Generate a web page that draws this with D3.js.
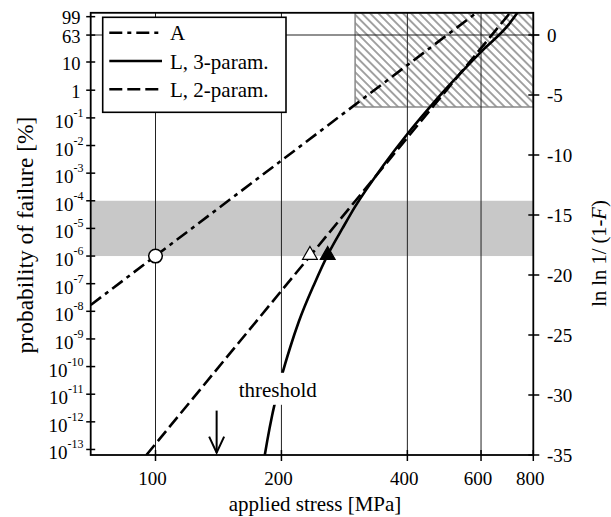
<!DOCTYPE html>
<html><head><meta charset="utf-8">
<script src="https://cdn.jsdelivr.net/npm/d3@7"></script>
<style>
body{margin:0;background:#fff;}
svg{display:block;}
text{font-family:"Liberation Serif","Times New Roman",serif;fill:#000;}
</style>
</head><body>
<svg id="chart" width="611" height="517"></svg>
<script>
// ---------------- data ----------------
const stressTicks = [100, 200, 400, 600, 800];
const stressGrid = [100, 200, 400, 600];
const lnlnTicks = [0, -5, -10, -15, -20, -25, -30, -35];
const probTicksPct = [99, 63, 10, 1, 1e-1, 1e-2, 1e-3, 1e-4, 1e-5, 1e-6, 1e-7, 1e-8, 1e-9, 1e-10, 1e-11, 1e-12, 1e-13];
const probTickBase = ["99", "63", "10", "1", "10", "10", "10", "10", "10", "10", "10", "10", "10", "10", "10", "10", "10"];
const probTickExp = [null, null, null, null, "-1", "-2", "-3", "-4", "-5", "-6", "-7", "-8", "-9", "-10", "-11", "-12", "-13"];

const seriesNames = ["A", "L, 3-param.", "L, 2-param."];
const lineAStress = [70, 585];
const lineALnln = [-22.5, 1.85];
const lineL2Stress = [95.1, 704];
const lineL2Lnln = [-35, 1.85];
const curveL3Stress = [182.5, 185, 190, 195, 200, 210, 220, 240, 260, 280, 300, 350, 400, 450, 500, 600, 700, 733];
const curveL3Lnln = [-35, -33.8, -31.7, -30.0, -28.5, -26.0, -23.9, -20.7, -18.1, -16.1, -14.3, -10.9, -8.25, -6.11, -4.31, -1.40, 0.91, 1.85];

const bandProbPct = [1e-4, 1e-6];
const hatchStress = [300, 800];
const hatchLnln = [-6, 1.85];
const markerProbPct = 1e-6;
const markerStress = [100, 234, 258]; // A, L 2-param., L 3-param.
const arrowStress = 140;
const arrowLnln = [-31.3, -34.8];
const thresholdText = "threshold";
const thresholdStress = 196;
const thresholdLnln = -30.15;

const xTitle = "applied stress [MPa]";
const yTitle = "probability of failure [%]";

// ---------------- scales ----------------
const stressDomain = [70, 800];
const lnlnDomain = [-35, 1.85];
const x = d3.scaleLog().domain(stressDomain).range([90.7, 533.3]);
const y = d3.scaleLinear().domain(lnlnDomain).range([455, 12.8]);
const toLnln = p => Math.log(-Math.log1p(-p / 100));

const svg = d3.select("#chart");
const x0 = x(stressDomain[0]), x1 = x(stressDomain[1]);
const yTop = y(lnlnDomain[1]), yBot = y(lnlnDomain[0]);

const defs = svg.append("defs");
defs.append("clipPath").attr("id", "clip").append("rect")
  .attr("x", x0).attr("y", yTop).attr("width", x1 - x0).attr("height", yBot - yTop);
const pat = defs.append("pattern").attr("id", "hatch")
  .attr("patternUnits", "userSpaceOnUse").attr("width", 5.8).attr("height", 5.8)
  .attr("patternTransform", "rotate(45)");
pat.append("line").attr("x1", 0).attr("y1", 2.9).attr("x2", 5.8).attr("y2", 2.9)
  .attr("stroke", "#5e5e5e").attr("stroke-width", 1.15);

// band
svg.append("rect")
  .attr("x", x0).attr("width", x1 - x0)
  .attr("y", y(toLnln(bandProbPct[0])))
  .attr("height", y(toLnln(bandProbPct[1])) - y(toLnln(bandProbPct[0])))
  .attr("fill", "#c8c8c8");

// hatched region
svg.append("rect")
  .attr("x", x(hatchStress[0])).attr("width", x(hatchStress[1]) - x(hatchStress[0]))
  .attr("y", y(hatchLnln[1])).attr("height", y(hatchLnln[0]) - y(hatchLnln[1]))
  .attr("fill", "url(#hatch)").attr("stroke", "#8a8a8a").attr("stroke-width", 1.5);

// grid
svg.append("g").selectAll("line").data(stressGrid).join("line")
  .attr("x1", d => x(d)).attr("x2", d => x(d))
  .attr("y1", yTop).attr("y2", yBot)
  .attr("stroke", "#222").attr("stroke-width", 1);
svg.append("line").attr("x1", x0).attr("x2", x1 + 6)
  .attr("y1", y(0)).attr("y2", y(0)).attr("stroke", "#222").attr("stroke-width", 1.1);

// series
const lineGen = d3.line().x(d => x(d[0])).y(d => y(d[1]));
const curveGen = d3.line().x(d => x(d[0])).y(d => y(d[1])).curve(d3.curveMonotoneX);
const gL = svg.append("g").attr("clip-path", "url(#clip)");
const styles = {
  A: {dash: "13,5,4,5"},
  L3: {dash: null},
  L2: {dash: "13,5"}
};
gL.append("path").datum(lineAStress.map((s, i) => [s, lineALnln[i]]))
  .attr("d", lineGen).attr("fill", "none").attr("stroke", "#000")
  .attr("stroke-width", 2.6).attr("stroke-dasharray", styles.A.dash);
gL.append("path").datum(lineL2Stress.map((s, i) => [s, lineL2Lnln[i]]))
  .attr("d", lineGen).attr("fill", "none").attr("stroke", "#000")
  .attr("stroke-width", 2.6).attr("stroke-dasharray", styles.L2.dash);
gL.append("path").datum(curveL3Stress.map((s, i) => [s, curveL3Lnln[i]]))
  .attr("d", curveGen).attr("fill", "none").attr("stroke", "#000")
  .attr("stroke-width", 2.6);

// threshold label with white background
const tx = x(thresholdStress), ty = y(thresholdLnln);
svg.append("rect").attr("x", tx - 41).attr("y", ty - 24).attr("width", 82).attr("height", 32).attr("fill", "#fff");
svg.append("text").attr("x", tx).attr("y", ty).attr("text-anchor", "middle")
  .attr("font-size", 21).text(thresholdText);

// arrow
const ax = x(arrowStress), ay1 = y(arrowLnln[0]), ay2 = y(arrowLnln[1]);
svg.append("line").attr("x1", ax).attr("x2", ax).attr("y1", ay1).attr("y2", ay2)
  .attr("stroke", "#000").attr("stroke-width", 2);
svg.append("path").attr("d", `M${ax - 7.5},${ay2 - 16}L${ax},${ay2}L${ax + 7.5},${ay2 - 16}`)
  .attr("fill", "none").attr("stroke", "#000").attr("stroke-width", 2);

// markers
const my = y(toLnln(markerProbPct));
svg.append("circle").attr("cx", x(markerStress[0])).attr("cy", my).attr("r", 6.8)
  .attr("fill", "#fff").attr("stroke", "#000").attr("stroke-width", 1.5);
const tri = d3.symbol().type(d3.symbolTriangle).size(95);
svg.append("path").attr("d", tri()).attr("transform", `translate(${x(markerStress[1])},${my - 1})`)
  .attr("fill", "#fff").attr("stroke", "#000").attr("stroke-width", 1.2);
svg.append("path").attr("d", tri()).attr("transform", `translate(${x(markerStress[2])},${my - 1})`)
  .attr("fill", "#000").attr("stroke", "#000").attr("stroke-width", 1.2);

// frame
svg.append("rect").attr("x", x0).attr("y", yTop).attr("width", x1 - x0).attr("height", yBot - yTop)
  .attr("fill", "none").attr("stroke", "#000").attr("stroke-width", 1.8);

// bottom ticks + labels
const gB = svg.append("g");
gB.selectAll("line").data(stressTicks).join("line")
  .attr("x1", d => x(d)).attr("x2", d => x(d)).attr("y1", yBot - 5).attr("y2", yBot + 6)
  .attr("stroke", "#000").attr("stroke-width", 1.5);
gB.selectAll("text").data(stressTicks).join("text")
  .attr("x", d => x(d) - 3).attr("y", 485).attr("text-anchor", "middle")
  .attr("font-size", 19).text(d => d);

// right ticks + labels
const gR = svg.append("g");
gR.selectAll("line").data(lnlnTicks).join("line")
  .attr("x1", x1 - 5).attr("x2", x1 + 6).attr("y1", d => y(d)).attr("y2", d => y(d))
  .attr("stroke", "#000").attr("stroke-width", 1.5);
gR.selectAll("text").data(lnlnTicks).join("text")
  .attr("x", 547).attr("y", d => y(d) + 6.5)
  .attr("font-size", 19).text(d => d);

// left ticks + labels
const gLft = svg.append("g");
gLft.selectAll("line").data(probTicksPct).join("line")
  .attr("x1", x0 - 4.5).attr("x2", x0 + 4.5)
  .attr("y1", d => y(toLnln(d))).attr("y2", d => y(toLnln(d)))
  .attr("stroke", "#000").attr("stroke-width", 1.5);
probTicksPct.forEach((p, i) => {
  const ty0 = y(toLnln(p));
  if (probTickExp[i] === null) {
    gLft.append("text").attr("x", 80.5).attr("y", ty0 + 7.5).attr("text-anchor", "end")
      .attr("font-size", 18.5).text(probTickBase[i]);
  } else {
    const t = gLft.append("text").attr("x", 83.5).attr("y", ty0 + 10).attr("text-anchor", "end")
      .attr("font-size", 19);
    t.append("tspan").text(probTickBase[i]);
    t.append("tspan").attr("font-size", 12).attr("dy", -11).text(probTickExp[i]);
  }
});

// axis titles
svg.append("text").attr("x", (x0 + x1) / 2 + 3).attr("y", 511).attr("text-anchor", "middle")
  .attr("font-size", 21).text(xTitle);
svg.append("text").attr("transform", "translate(33,235) rotate(-90)").attr("text-anchor", "middle")
  .attr("font-size", 23.5).text(yTitle);
const rt = svg.append("text").attr("transform", "translate(606,253.5) rotate(-90)").attr("text-anchor", "middle")
  .attr("font-size", 20.5);
rt.append("tspan").text("ln ln 1/ (1-");
rt.append("tspan").attr("font-style", "italic").text("F");
rt.append("tspan").text(")");

// legend
const lg = svg.append("g");
lg.append("rect").attr("x", 102.7).attr("y", 17.3).attr("width", 183.3).attr("height", 95)
  .attr("fill", "#fff").attr("stroke", "#000").attr("stroke-width", 1.6);
const legDash = [styles.A.dash, styles.L3.dash, styles.L2.dash];
seriesNames.forEach((name, i) => {
  const ly = 32.7 + i * 28.3;
  lg.append("line").attr("x1", 109.3).attr("x2", 162).attr("y1", ly).attr("y2", ly)
    .attr("stroke", "#000").attr("stroke-width", 2.6).attr("stroke-dasharray", legDash[i]);
  lg.append("text").attr("x", 170).attr("y", ly + 7.5).attr("font-size", 21).text(name);
});
</script>
</body></html>
